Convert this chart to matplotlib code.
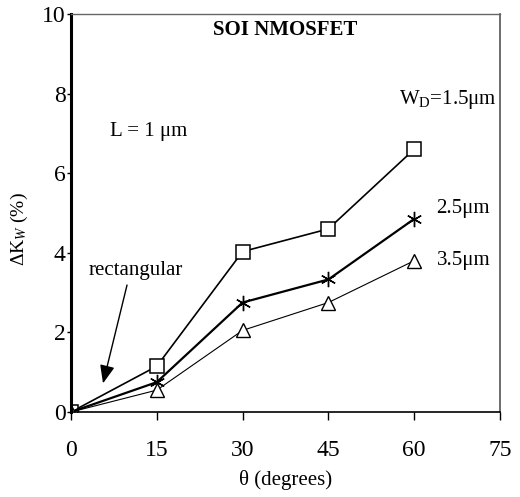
import matplotlib
matplotlib.use("Agg")
import matplotlib.pyplot as plt

plt.rcParams['font.family'] = ['Liberation Serif', 'DejaVu Serif']
plt.rcParams['mathtext.fontset'] = 'custom'
plt.rcParams['mathtext.rm'] = 'Liberation Serif'
plt.rcParams['mathtext.it'] = 'Liberation Serif:italic'

theta = [0, 15, 30, 45, 60]
wd15 = [0, 1.15, 4.03, 4.6, 6.6]
wd25 = [0, 0.75, 2.75, 3.33, 4.85]
wd35 = [0, 0.55, 2.05, 2.75, 3.8]
xticks = [0, 15, 30, 45, 60, 75]
yticks = [0, 2, 4, 6, 8, 10]

fig = plt.figure(figsize=(5.2, 4.97), dpi=100)
ax = fig.add_axes([0.1365, 0.171, 0.825, 0.801])

ax.plot(theta, wd15, color='black', lw=1.2, marker='s', ms=10, mfc='white', mec='black', mew=1.1)
ax.plot(theta, wd25, color='black', lw=1.6, marker=(6, 2, 0), ms=11, mec='black', mew=1.0)
ax.plot(theta, wd35, color='black', lw=0.8, marker='^', ms=10, mfc='white', mec='black', mew=1.0)

ax.set_xlim(0, 75)
ax.set_ylim(0, 10)
ax.set_xticks(xticks)
ax.set_yticks(yticks)
ax.tick_params(axis='x', direction='out', length=6, width=1, pad=14, labelsize=17)
ax.tick_params(axis='y', direction='out', length=3, width=1, pad=1, labelsize=17)

ax.spines['left'].set_linewidth(2.2)
ax.spines['bottom'].set_linewidth(1.2)
ax.spines['top'].set_linewidth(1.0)
ax.spines['right'].set_linewidth(1.2)
ax.spines['top'].set_color('#666666')
ax.spines['right'].set_color('#555555')

ax.set_xlabel('θ (degrees)', fontsize=15)
ax.xaxis.set_label_coords(0.5, -0.145)
ax.set_ylabel('ΔK$_{W}$ (%)', fontsize=14)
ax.yaxis.set_label_coords(-0.095, 0.46)

ax.text(37.5, 9.6, 'SOI NMOSFET', fontsize=15, fontweight='bold', ha='center', va='center')
ax.text(57.4, 7.85, 'W$_{\\mathrm{D}}$=1.5μm', fontsize=15, ha='left', va='center')
ax.text(6.8, 7.05, 'L = 1 μm', fontsize=15, ha='left', va='center')
ax.text(63.9, 5.1, '2.5μm', fontsize=15, ha='left', va='center')
ax.text(63.9, 3.8, '3.5μm', fontsize=15, ha='left', va='center')
ax.text(3.0, 3.55, 'rectangular', fontsize=15, ha='left', va='center')
ax.annotate('', xy=(5.6, 0.72), xytext=(9.8, 3.19),
            arrowprops=dict(arrowstyle='-|>,head_length=1.1,head_width=0.45', color='black', lw=1.0,
                            shrinkA=0, shrinkB=0))

fig.savefig('out.png', dpi=100)
